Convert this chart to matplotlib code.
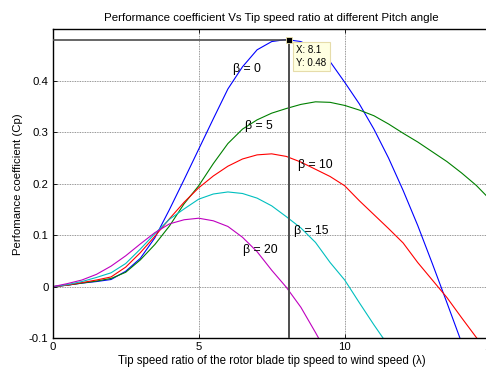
import matplotlib
matplotlib.use('Agg')
import matplotlib.pyplot as plt

plt.rcParams['font.family'] = ['Liberation Sans', 'DejaVu Sans']

# Cp curves, one per pitch angle
lam_b0 = [0, 0.5, 1, 1.5, 2, 2.5, 3, 3.5, 4, 4.5, 5, 5.5, 6, 6.5, 7, 7.5, 8,
          8.5, 9, 9.5, 10, 10.5, 11, 11.5, 12, 12.5, 13, 13.5, 14]
cp_b0 = [0, 0.003, 0.007, 0.010, 0.014, 0.030, 0.055, 0.095, 0.150, 0.208,
         0.267, 0.326, 0.384, 0.427, 0.460, 0.476, 0.480, 0.476, 0.462,
         0.437, 0.397, 0.355, 0.306, 0.250, 0.187, 0.119, 0.045, -0.031,
         -0.108]

lam_b5 = [0, 0.5, 1, 1.5, 2, 2.5, 3, 3.5, 4, 4.5, 5, 5.5, 6, 6.5, 7, 7.5, 8,
          8.5, 9, 9.5, 10, 10.5, 11, 11.5, 12, 12.5, 13, 13.5, 14, 14.5, 15]
cp_b5 = [0, 0.003, 0.007, 0.011, 0.016, 0.028, 0.052, 0.082, 0.118, 0.161,
         0.196, 0.239, 0.278, 0.306, 0.324, 0.337, 0.346, 0.354, 0.359,
         0.358, 0.352, 0.343, 0.332, 0.316, 0.298, 0.281, 0.262, 0.243,
         0.221, 0.197, 0.168]

lam_b10 = [0, 0.5, 1, 1.5, 2, 2.5, 3, 3.5, 4, 4.5, 5, 5.5, 6, 6.5, 7, 7.5, 8,
           8.5, 9, 9.5, 10, 10.5, 11, 11.5, 12, 12.5, 13, 13.5, 14, 14.5, 15]
cp_b10 = [0, 0.003, 0.008, 0.013, 0.019, 0.038, 0.066, 0.098, 0.132, 0.164,
          0.192, 0.215, 0.234, 0.248, 0.256, 0.258, 0.253, 0.242, 0.228,
          0.214, 0.196, 0.167, 0.140, 0.113, 0.085, 0.047, 0.013, -0.021,
          -0.060, -0.098, -0.135]

lam_b15 = [0, 0.5, 1, 1.5, 2, 2.5, 3, 3.5, 4, 4.5, 5, 5.5, 6, 6.5, 7, 7.5, 8,
           8.5, 9, 9.5, 10, 10.5, 11, 11.5]
cp_b15 = [0, 0.004, 0.010, 0.018, 0.027, 0.045, 0.073, 0.103, 0.131, 0.151,
          0.170, 0.180, 0.184, 0.181, 0.172, 0.157, 0.136, 0.114, 0.086,
          0.047, 0.013, -0.031, -0.074, -0.115]

lam_b20 = [0, 0.5, 1, 1.5, 2, 2.5, 3, 3.5, 4, 4.5, 5, 5.5, 6, 6.5, 7, 7.5, 8,
           8.5, 9, 9.5]
cp_b20 = [0, 0.006, 0.013, 0.024, 0.040, 0.060, 0.083, 0.105, 0.122, 0.130,
          0.133, 0.128, 0.117, 0.096, 0.068, 0.032, -0.001, -0.040, -0.089,
          -0.140]

labels = ['\u03b2 = 0', '\u03b2 = 5', '\u03b2 = 10', '\u03b2 = 15', '\u03b2 = 20']
label_pos = [(6.17, 0.423), (6.59, 0.312), (8.40, 0.236), (8.27, 0.109),
             (6.51, 0.071)]
colors = ['#0000ff', '#008000', '#ff0000', '#00bfbf', '#bf00bf']

tip_x, tip_y = 8.1, 0.48

fig = plt.figure(figsize=(4.86, 3.74), dpi=100)
ax = fig.add_axes([0.1084, 0.0957, 0.9013, 0.8262])

curves = [(lam_b0, cp_b0), (lam_b5, cp_b5), (lam_b10, cp_b10),
          (lam_b15, cp_b15), (lam_b20, cp_b20)]
for (lx, cy), c in zip(curves, colors):
    ax.plot(lx, cy, color=c, lw=0.8)

for txt, (tx, ty) in zip(labels, label_pos):
    ax.text(tx, ty, txt, fontsize=8.8, va='center', ha='left')

# data tip
ax.plot([0, tip_x], [tip_y, tip_y], color='0.3', lw=1.2, zorder=4)
ax.plot([tip_x, tip_x], [tip_y, -0.1], color='0.3', lw=1.4, zorder=4)
ax.plot([tip_x], [tip_y], 's', color='black', markersize=5,
        markeredgecolor='#f0e8b0', markeredgewidth=0.6, zorder=5)
ax.text(8.34, 0.447, 'X: 8.1\nY: 0.48', fontsize=7, va='center',
        ha='left', linespacing=1.35,
        bbox=dict(boxstyle='square,pad=0.35', facecolor='#ffffe1',
                  edgecolor='#e6dcaa', lw=0.8), zorder=6)

ax.set_xlim(0, 15)
ax.set_ylim(-0.1, 0.5)
ax.set_xticks([0, 5, 10, 15])
ax.set_yticks([-0.1, 0, 0.1, 0.2, 0.3, 0.4])
ax.set_yticklabels(['-0.1', '0', '0.1', '0.2', '0.3', '0.4'])
ax.tick_params(direction='in', length=3, width=0.6, labelsize=8.2,
               top=True, right=True, pad=3)
ax.grid(True, color='0.45', linestyle=(0, (1, 1)), lw=0.6)
for s in ax.spines.values():
    s.set_linewidth(1.0)

ax.set_title('Performance coefficient Vs Tip speed ratio at different Pitch angle',
             fontsize=8.25, pad=6)
ax.set_xlabel('Tip speed ratio of the rotor blade tip speed to wind speed (\u03bb)',
              fontsize=8.3, labelpad=2)
ax.set_ylabel('Perfomance coefficient (Cp)', fontsize=8.2, labelpad=4)

fig.savefig('out.png', dpi=100)
